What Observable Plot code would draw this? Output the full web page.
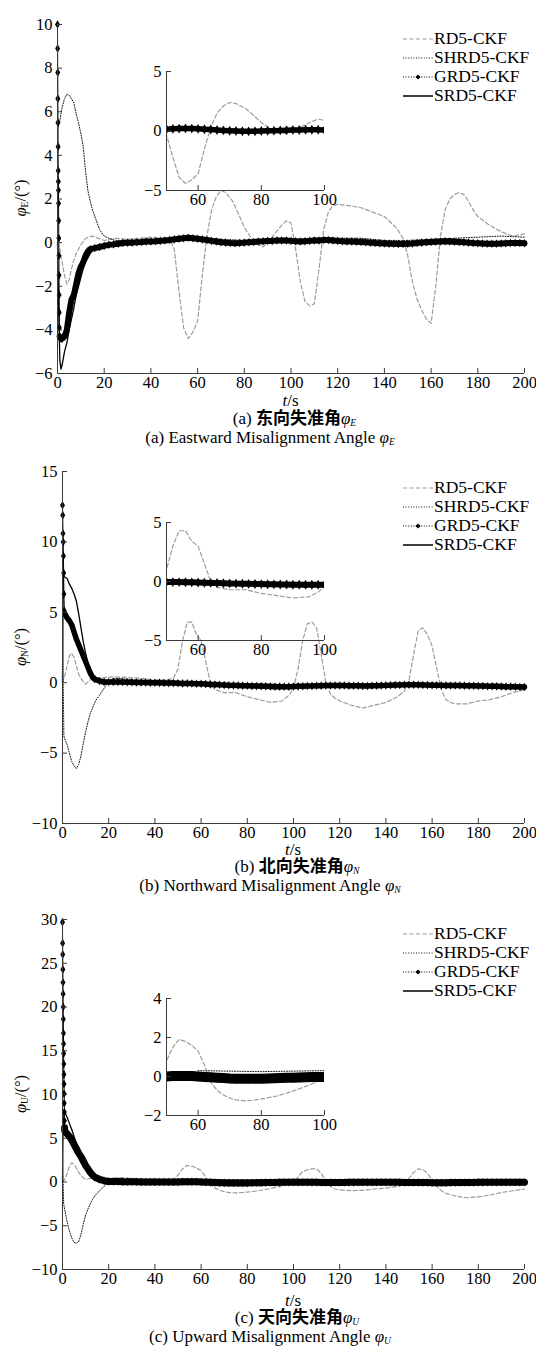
<!DOCTYPE html>
<html><head><meta charset="utf-8">
<script src="https://cdn.jsdelivr.net/npm/d3@7"></script>
<script src="https://cdn.jsdelivr.net/npm/@observablehq/plot@0.6"></script>
<style>
body{margin:0;background:#fff;}
#page{position:relative;width:536px;height:1359px;font-family:"Liberation Serif","Times New Roman",serif;color:#000;overflow:hidden;}
.box{position:absolute;}
.box svg{display:block;}
.cap{position:absolute;text-align:center;font-size:17px;line-height:17px;white-space:nowrap;transform:translateX(-50%);}
.zh{font-family:"Liberation Serif","Noto Sans CJK SC",serif;font-weight:bold;font-size:17px;line-height:17px;}
.ylab{position:absolute;font-size:16.5px;line-height:18px;white-space:nowrap;transform:translate(-50%,-50%) rotate(-90deg);}
.legend{position:absolute;left:403px;font-size:17.5px;}
.legend .row{display:flex;align-items:center;height:19px;}
.legend svg{display:block;margin-right:1px;}
sub{font-size:9.5px;vertical-align:-2px;line-height:0;}
</style></head>
<body><div id="page"></div>
<script>
// ---------------- data ----------------
const seriesNames = ["RD5-CKF", "SHRD5-CKF", "GRD5-CKF", "SRD5-CKF"];
const xTicksMain = [0, 20, 40, 60, 80, 100, 120, 140, 160, 180, 200];
const xTicksInset = [60, 80, 100];

// shared sample times of the GRD5 band after t = 20 s
const bandTimes = [20,22,24,26,28,30,32,34,36,38,40,42,44,46,48,50,52,54,56,58,60,62,64,66,68,70,72,74,76,78,80,82,84,86,88,90,92,94,96,98,100,102,104,106,108,110,112,114,116,118,120,122,124,126,128,130,132,134,136,138,140,142,144,146,148,150,152,154,156,158,160,162,164,166,168,170,172,174,176,178,180,182,184,186,188,190,192,194,196,198,200];

// ===== (a) East =====
const rd5E_t = [0,1,2,3,4,5,6,7,8,10,12,15,20,25,30,35,40,45,48,50,52,54,56,58,60,62,64,66,68,70,72,75,78,80,83,86,88,90,93,96,98,100,102,104,106,108,110,112,114,116,118,120,125,130,135,140,145,148,150,152,154,156,158,160,162,164,166,168,170,172,174,176,178,180,185,190,195,200];
const rd5E_v = [0,-0.3,-0.9,-1.5,-1.9,-1.7,-1.2,-0.8,-0.5,-0.1,0.2,0.3,0.1,0.2,0.15,0.2,0.25,0.2,0.2,-0.3,-2.2,-3.9,-4.4,-4.1,-3.6,-1.5,0.3,1.5,2.1,2.4,2.3,1.9,1.2,0.7,0.2,-0.1,-0.2,0,0.4,0.8,1.0,0.9,-0.3,-1.8,-2.7,-2.9,-2.8,-1.2,0.6,1.4,1.7,1.75,1.7,1.6,1.4,1.2,0.7,0.2,-0.6,-1.8,-2.6,-3.1,-3.5,-3.7,-2.0,0.3,1.5,2.0,2.2,2.3,2.2,1.9,1.5,1.2,0.8,0.5,0.3,0.4];
const shrd5E_t = [0,1,2,3,4,5,6,7,8,9,10,11,12,13,14,15,16,18,20,22,25,30,40,50,60,70,80,90,100,110,120,130,140,150,160,170,180,190,200];
const shrd5E_v = [5.2,5.6,6.2,6.6,6.8,6.75,6.6,6.4,5.9,5.5,5.0,4.4,3.3,2.4,1.9,1.5,1.2,0.6,0.3,0.2,0.1,0.1,0.1,0.2,0.25,0.15,0.1,0.15,0.15,0.2,0.2,0.2,0.1,0.1,0.15,0.2,0.25,0.3,0.25];
const grd5E_t = [0,0.05,0.1,0.15,0.2,0.25,0.3,0.35,0.4,0.45,0.5,0.55,0.6,0.65,0.7,0.75,0.8,0.9,1,1.5,2,3,4,5,6,7,8,9,10,11,12,13,14,16,18];
const grd5E_v = [10,8.9,7.8,6.6,5.5,4.4,3.3,2.8,2.4,1.8,1.0,0.2,-0.6,-1.5,-2.4,-3.2,-3.9,-4.3,-4.3,-4.4,-4.4,-4.3,-4.0,-3.2,-2.6,-2.4,-1.9,-1.4,-1.1,-0.9,-0.6,-0.4,-0.3,-0.25,-0.2];
const grd5E_band = [-0.15,-0.1,-0.08,-0.05,-0.02,0,0,0.02,0.03,0.05,0.05,0.06,0.08,0.1,0.12,0.15,0.18,0.2,0.22,0.2,0.18,0.15,0.12,0.08,0.05,0.02,0,-0.02,-0.03,-0.02,0,0.02,0.03,0.05,0.06,0.08,0.08,0.1,0.1,0.1,0.08,0.06,0.05,0.06,0.08,0.1,0.1,0.12,0.12,0.1,0.08,0.06,0.05,0.05,0.04,0.03,0.02,0,-0.02,-0.03,-0.04,-0.05,-0.05,-0.06,-0.06,-0.05,-0.04,-0.02,0,0.02,0.03,0.04,0.05,0.06,0.05,0.04,0.03,0.02,0,-0.02,-0.03,-0.04,-0.05,-0.05,-0.05,-0.04,-0.03,-0.02,-0.02,-0.02,-0.03];
const srd5E_t = [0,0.5,1,1.5,2,3,4,5,6,7,8,9,10,11,12,13,14,15,17,20,25,30,40,60,80,100,120,140,160,180,200];
const srd5E_v = [0,-3,-5.4,-5.8,-5.6,-5.0,-4.6,-4.0,-3.5,-3.0,-2.4,-2.0,-1.6,-1.2,-0.9,-0.7,-0.5,-0.35,-0.25,-0.15,-0.05,0,0.05,0.2,0,0.1,0.1,0.05,0.05,0.05,0];
const yDomainE = [-6, 10], yTicksE = [-6,-4,-2,0,2,4,6,8,10];
const insetDomainE = [-5, 5], insetTicksE = [-5, 0, 5];

// ===== (b) North =====
const rd5N_t = [0,1,2,3,4,5,6,7,8,9,10,12,15,20,25,30,35,40,45,48,50,52,54,56,58,60,62,64,66,68,70,75,80,85,90,95,98,100,102,104,106,108,110,112,114,116,118,120,125,130,135,140,145,148,150,152,154,156,158,160,162,164,166,168,170,175,180,185,190,195,200];
const rd5N_v = [0,0.5,1.2,1.9,2.1,1.8,1.2,0.6,0.3,0.1,-0.1,0.2,0.3,0.4,0.4,0.35,0.3,0.2,0.2,0.3,1.0,3.0,4.3,4.3,3.4,3.0,1.5,0,-0.5,-0.6,-0.7,-0.7,-1.0,-1.2,-1.4,-1.3,-0.9,-0.4,1.0,3.0,4.2,4.3,3.9,2.0,0,-0.8,-1.1,-1.3,-1.6,-1.8,-1.6,-1.4,-1.0,-0.6,0.2,2.0,3.7,3.9,3.4,2.6,1.0,-0.5,-1.2,-1.4,-1.5,-1.5,-1.3,-1.2,-1.0,-0.7,-0.5];
const shrd5N_t = [0,0.3,0.6,1,2,3,4,5,6,7,8,9,10,11,12,13,14,15,16,18,20,22,25,30,40,50,60,70,80,90,100,120,140,160,180,200];
const shrd5N_v = [4.5,0,-3.8,-4.0,-4.4,-5.0,-5.6,-5.9,-6.1,-5.8,-5.2,-4.3,-3.5,-2.8,-2.2,-1.8,-1.4,-1.1,-0.9,-0.4,0.1,0.3,0.3,0.2,0.15,0.1,0,-0.1,-0.1,-0.1,-0.15,-0.1,-0.1,-0.1,-0.1,-0.15];
const grd5N_t = [0,0.1,0.2,0.3,0.4,0.5,0.6,0.8,1,2,3,4,5,6,7,8,9,10,11,12,13,14,16,18];
const grd5N_v = [12.6,11.9,10.6,10.0,9.0,7.8,6.3,5.1,4.9,4.6,4.4,4.1,3.6,3.1,2.7,2.3,1.9,1.5,1.1,0.7,0.4,0.25,0.12,0.05];
const grd5N_band = [0.05,0.05,0.05,0.05,0.04,0.03,0.02,0.02,0.01,0,0,-0.01,-0.02,-0.03,-0.03,-0.04,-0.05,-0.05,-0.06,-0.07,-0.08,-0.1,-0.12,-0.13,-0.15,-0.16,-0.18,-0.19,-0.2,-0.21,-0.22,-0.23,-0.24,-0.25,-0.26,-0.27,-0.28,-0.28,-0.28,-0.28,-0.27,-0.26,-0.25,-0.24,-0.23,-0.22,-0.21,-0.2,-0.2,-0.2,-0.2,-0.2,-0.21,-0.22,-0.22,-0.23,-0.23,-0.22,-0.21,-0.2,-0.19,-0.18,-0.17,-0.16,-0.15,-0.15,-0.15,-0.15,-0.16,-0.17,-0.18,-0.18,-0.19,-0.2,-0.2,-0.2,-0.2,-0.21,-0.22,-0.22,-0.23,-0.24,-0.25,-0.25,-0.26,-0.27,-0.28,-0.28,-0.29,-0.3,-0.3];
const srd5N_t = [0,0.3,1,2,3,4,5,6,7,8,9,10,11,12,13,14,16,20,30,60,100,150,200];
const srd5N_v = [0,7.6,7.5,7.4,7.0,6.7,6.3,5.8,4.9,3.9,2.9,2.1,1.4,0.8,0.4,0.2,0.12,0.05,0,-0.1,-0.25,-0.2,-0.3];
const yDomainN = [-10, 15], yTicksN = [-10,-5,0,5,10,15];
const insetDomainN = [-5, 5], insetTicksN = [-5, 0, 5];

// ===== (c) Up =====
const rd5U_t = [0,1,2,3,4,5,6,7,8,9,10,12,15,20,25,30,35,40,45,48,50,52,54,56,58,60,62,64,66,68,70,72,75,78,80,85,90,95,100,102,104,106,108,110,112,114,116,118,120,125,130,135,140,145,148,150,152,154,156,158,160,162,164,166,170,175,180,185,190,195,200];
const rd5U_v = [0,0.3,1.0,1.8,2.2,2.0,1.6,1.1,0.7,0.5,0.3,0.4,0.5,0.4,0.5,0.4,0.3,0.3,0.2,0.3,0.8,1.5,1.9,1.8,1.6,1.3,0.6,-0.3,-0.7,-0.95,-1.1,-1.2,-1.25,-1.2,-1.15,-1.0,-0.75,-0.45,-0.1,0.6,1.2,1.4,1.5,1.5,1.0,0.1,-0.5,-0.8,-0.9,-1.0,-0.95,-0.8,-0.7,-0.5,-0.3,0.4,1.1,1.5,1.4,1.0,0.2,-0.5,-1.0,-1.3,-1.6,-1.8,-1.7,-1.5,-1.2,-1.0,-0.8];
const shrd5U_t = [0,0.5,1,2,3,4,5,6,7,8,9,10,11,12,13,14,15,16,18,20,22,25,30,40,60,80,100,120,140,160,180,200];
const shrd5U_v = [3,-2.5,-3.2,-4.6,-5.6,-6.4,-6.9,-7.0,-6.8,-6.0,-4.8,-3.8,-3.1,-2.5,-2.0,-1.6,-1.3,-1.0,-0.5,0,0.2,0.3,0.3,0.3,0.3,0.25,0.3,0.2,0.2,0.2,0.2,0.2];
const grd5U_t = [0,0.05,0.1,0.15,0.2,0.25,0.3,0.35,0.4,0.45,0.5,0.55,0.6,0.65,0.7,0.75,0.8,0.85,0.9,1,2,3,4,5,6,7,8,9,10,11,12,13,14,16,18];
const grd5U_v = [29.7,27.3,26.0,24.3,22.8,21.5,20.0,18.6,17.0,15.8,14.7,13.5,12.3,11.2,10.1,9.0,8.0,7.0,6.2,5.8,5.5,5.2,4.8,4.3,3.8,3.3,2.9,2.4,1.9,1.5,1.1,0.8,0.55,0.3,0.15];
const grd5U_band = [0.05,0.05,0.05,0.04,0.03,0.02,0.02,0.01,0,0,0,0,0,0,0,0,0.02,0.03,0.03,0.02,0,-0.02,-0.04,-0.06,-0.08,-0.1,-0.11,-0.12,-0.12,-0.12,-0.11,-0.1,-0.09,-0.08,-0.07,-0.06,-0.05,-0.04,-0.03,-0.02,-0.02,-0.02,-0.03,-0.03,-0.04,-0.04,-0.05,-0.05,-0.05,-0.05,-0.05,-0.05,-0.04,-0.04,-0.03,-0.03,-0.02,-0.02,-0.02,-0.02,-0.02,-0.03,-0.03,-0.04,-0.05,-0.05,-0.06,-0.06,-0.07,-0.07,-0.08,-0.08,-0.08,-0.08,-0.07,-0.07,-0.06,-0.06,-0.05,-0.05,-0.04,-0.04,-0.03,-0.03,-0.03,-0.02,-0.02,-0.02,-0.02,-0.02,-0.02];
const srd5U_t = [0,0.3,1,2,3,4,5,6,7,8,9,10,11,12,13,14,16,18,20,30,60,100,150,200];
const srd5U_v = [0,8.0,8.0,7.4,6.7,6.0,5.2,4.4,3.6,2.9,2.3,1.7,1.3,1.0,0.85,0.7,0.45,0.25,0.1,0.05,0,0,0,0];
const yDomainU = [-10, 30], yTicksU = [-10,-5,0,5,10,15,20,25,30];
const insetDomainU = [-2, 4], insetTicksU = [-2, 0, 2, 4];

// ---------------- drawing ----------------
const SERIF = '"Liberation Serif", "Times New Roman", serif';
const AX = "#3a3a3a";
const GRAY = "#9c9c9c";
const fmt = d3.format("d");
const rows = (t, v) => t.map((d, i) => ({t: d, v: v[i]}));

const panels = [
  {key: "E", rd: rows(rd5E_t, rd5E_v), sh: rows(shrd5E_t, shrd5E_v),
   gr: rows(grd5E_t, grd5E_v).concat(rows(bandTimes, grd5E_band)), sr: rows(srd5E_t, srd5E_v),
   yDomain: yDomainE, yTicks: yTicksE, iDomain: insetDomainE, iTicks: insetTicksE,
   top: 0, height: 395, mt: 24, mb: 22, ml: 57, bandW: 6, insetBandW: 5.5,
   inset: {left: 130, top: 55, width: 210, height: 160, ml: 36, mr: 16, mt: 16, mb: 25},
   legendTop: 28.5, ylabY: 198, tsY: 392, zhY: 410, enY: 429, letter: "a",
   zh: "东向失准角", en: "Eastward Misalignment Angle "},
  {key: "N", rd: rows(rd5N_t, rd5N_v), sh: rows(shrd5N_t, shrd5N_v),
   gr: rows(grd5N_t, grd5N_v).concat(rows(bandTimes, grd5N_band)), sr: rows(srd5N_t, srd5N_v),
   yDomain: yDomainN, yTicks: yTicksN, iDomain: insetDomainN, iTicks: insetTicksN,
   top: 446, height: 400, mt: 25, mb: 23, ml: 62, bandW: 5.5, insetBandW: 6,
   inset: {left: 130, top: 506, width: 210, height: 160, ml: 36, mr: 16, mt: 16, mb: 26},
   legendTop: 478, ylabY: 647, tsY: 841, zhY: 858, enY: 877, letter: "b",
   zh: "北向失准角", en: "Northward Misalignment Angle "},
  {key: "U", rd: rows(rd5U_t, rd5U_v), sh: rows(shrd5U_t, shrd5U_v),
   gr: rows(grd5U_t, grd5U_v).concat(rows(bandTimes, grd5U_band)), sr: rows(srd5U_t, srd5U_v),
   yDomain: yDomainU, yTicks: yTicksU, iDomain: insetDomainU, iTicks: insetTicksU,
   top: 895, height: 397, mt: 24, mb: 23, ml: 62, bandW: 7, insetBandW: 10,
   inset: {left: 130, top: 983, width: 210, height: 160, ml: 36, mr: 16, mt: 15, mb: 28},
   legendTop: 923.5, ylabY: 1094, tsY: 1292, zhY: 1309, enY: 1328, letter: "c",
   zh: "天向失准角", en: "Upward Misalignment Angle "}
];

function seriesMarks(p, clip, filt, inset) {
  const f = filt || (() => true);
  const o = {x: "t", y: "v", clip};
  const gr = p.gr.filter(f);
  const spike = gr.filter(d => d.t < 1);
  const body = gr.filter(d => d.t >= 0.9);
  return [
    Plot.line(p.rd.filter(f), {...o, stroke: GRAY, strokeWidth: 1.2, strokeDasharray: "4,2.5"}),
    Plot.line(p.sh.filter(f), {...o, stroke: "#111", strokeWidth: 1, strokeDasharray: "1,1.6"}),
    Plot.line(spike, {...o, stroke: "#000", strokeWidth: 1}),
    Plot.line(body, {...o, stroke: "#000", strokeWidth: inset ? p.insetBandW : p.bandW}),
    Plot.dot(gr, {...o, symbol: "diamond", r: inset ? 3 : 2.6, fill: "#000", stroke: "none"}),
    Plot.line(p.sr.filter(f), {...o, stroke: "#000", strokeWidth: 1.3})
  ];
}

function axisMarks(xTicks, xDomain, yTicks, yDomain, fw, fh) {
  return [
    Plot.ruleX([xDomain[0]], {stroke: AX}),
    Plot.ruleY([yDomain[0]], {stroke: AX}),
    Plot.ruleX(xTicks, {x: d => d, stroke: AX, insetTop: fh - 5}),
    Plot.ruleY(yTicks, {y: d => d, stroke: AX, insetRight: fw - 5}),
    Plot.axisX({ticks: xTicks, tickSize: 0, tickPadding: 3, tickFormat: fmt, label: null}),
    Plot.axisY({ticks: yTicks, tickSize: 0, tickPadding: 5, tickFormat: fmt, label: null})
  ];
}

const page = document.getElementById("page");
function place(node, left, top) {
  const d = document.createElement("div");
  d.className = "box";
  d.style.left = left + "px"; d.style.top = top + "px";
  d.appendChild(node); page.appendChild(d); return d;
}

const legendStyles = [
  {stroke: GRAY, dash: "4,2.5", w: 1.2, marker: false},
  {stroke: "#111", dash: "1,1.6", w: 1, marker: false},
  {stroke: "#000", dash: "1,1.6", w: 1, marker: true},
  {stroke: "#000", dash: null, w: 1.5, marker: false}
];

for (const p of panels) {
  const W = 536, mr = 12;
  const fw = W - p.ml - mr, fh = p.height - p.mt - p.mb;
  const main = Plot.plot({
    width: W, height: p.height, marginLeft: p.ml, marginRight: mr, marginTop: p.mt, marginBottom: p.mb,
    style: {fontFamily: SERIF, fontSize: "16.5px", background: "transparent", color: "#000", overflow: "visible"},
    x: {domain: [0, 200]}, y: {domain: p.yDomain},
    marks: [...seriesMarks(p, false, null, false), ...axisMarks(xTicksMain, [0, 200], p.yTicks, p.yDomain, fw, fh)]
  });
  place(main, 0, p.top);

  const q = p.inset;
  const ifw = q.width - q.ml - q.mr, ifh = q.height - q.mt - q.mb;
  const inset = Plot.plot({
    width: q.width, height: q.height, marginLeft: q.ml, marginRight: q.mr, marginTop: q.mt, marginBottom: q.mb,
    style: {fontFamily: SERIF, fontSize: "16.5px", background: "transparent", color: "#000", overflow: "visible"},
    x: {domain: [50, 100]}, y: {domain: p.iDomain},
    marks: [...seriesMarks(p, true, d => d.t >= 47 && d.t <= 103, true),
            ...axisMarks(xTicksInset, [50, 100], p.iTicks, p.iDomain, ifw, ifh)]
  });
  place(inset, q.left, q.top);

  // legend
  const lg = document.createElement("div");
  lg.className = "legend"; lg.style.top = p.legendTop + "px";
  seriesNames.forEach((name, i) => {
    const s = legendStyles[i];
    const row = document.createElement("div"); row.className = "row";
    row.innerHTML = `<svg width="30" height="19"><line x1="0" x2="30" y1="10" y2="10" stroke="${s.stroke}" stroke-width="${s.w}" ${s.dash ? `stroke-dasharray="${s.dash}"` : ""}/>${s.marker ? `<path d="M15,7.4L17.6,10L15,12.6L12.4,10Z" fill="#000"/>` : ""}</svg><span>${name}</span>`;
    lg.appendChild(row);
  });
  page.appendChild(lg);

  // y label
  const yl = document.createElement("div");
  yl.className = "ylab"; yl.style.left = "21px"; yl.style.top = p.ylabY + "px";
  yl.innerHTML = `<i>φ</i><sub>${p.key}</sub>/(°)`;
  page.appendChild(yl);

  // captions
  const cx = p.ml + fw / 2;
  const ts = document.createElement("div"); ts.className = "cap";
  ts.style.left = cx + "px"; ts.style.top = p.tsY + "px"; ts.innerHTML = "<i>t</i>/s";
  page.appendChild(ts);
  const zh = document.createElement("div"); zh.className = "cap";
  zh.style.left = (cx + 4) + "px"; zh.style.top = p.zhY + "px";
  zh.innerHTML = `(${p.letter}) <span class="zh">${p.zh}</span><i>φ</i><sub><i>${p.key}</i></sub>`;
  page.appendChild(zh);
  const en = document.createElement("div"); en.className = "cap";
  en.style.left = "270px"; en.style.top = p.enY + "px";
  en.innerHTML = `(${p.letter}) ${p.en}<i>φ</i><sub><i>${p.key}</i></sub>`;
  page.appendChild(en);
}
</script></body></html>
